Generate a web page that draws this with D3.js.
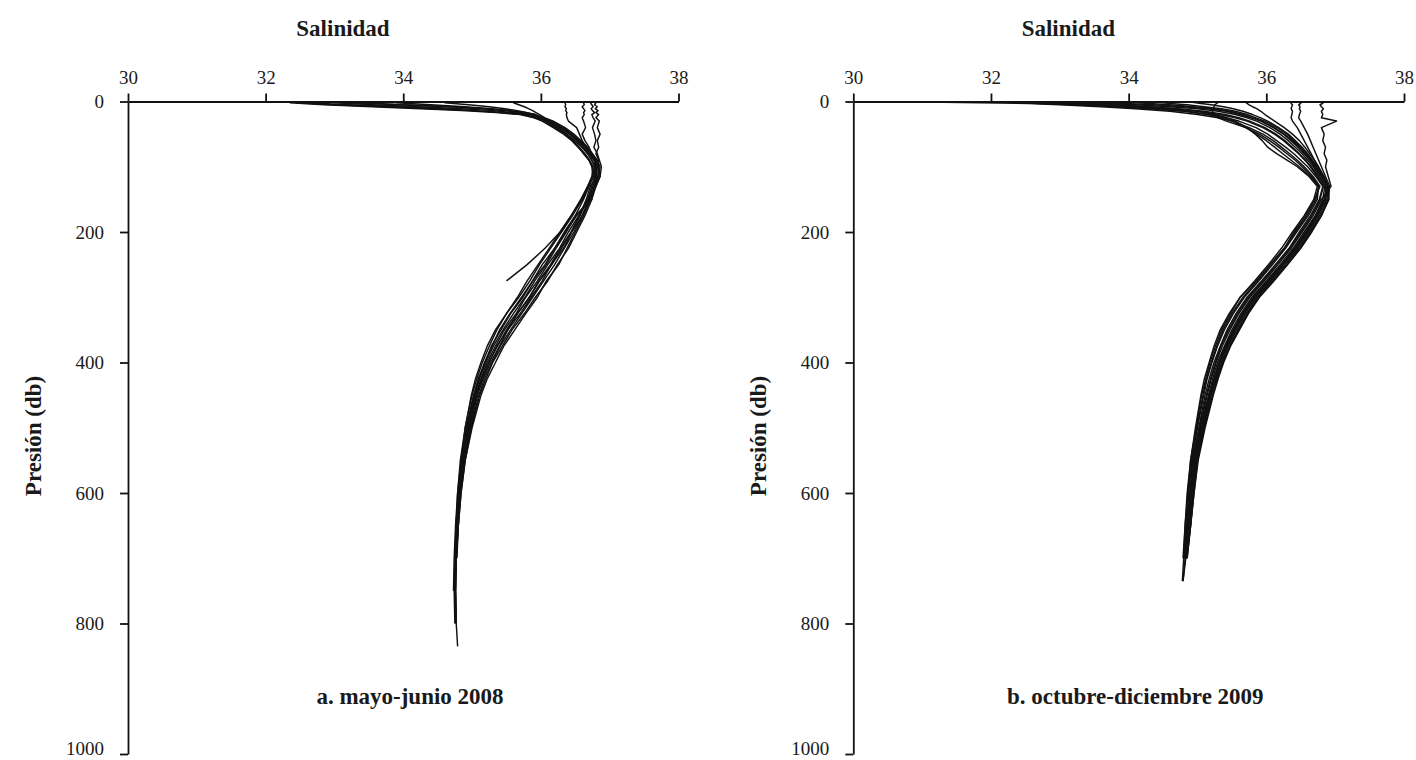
<!DOCTYPE html>
<html>
<head>
<meta charset="utf-8">
<script src="https://cdn.jsdelivr.net/npm/d3@7"></script>
<style>
  body { margin: 0; background: #fff; }
  text { font-family: "Liberation Serif", "DejaVu Serif", serif; fill: #1a1a1a; }
</style>
</head>
<body>
<svg></svg>
<script>
let salTicks = [30, 32, 34, 36, 38]
let presTicks = [0, 200, 400, 600, 800, 1000]

// pressure levels (db) of each panel; every profile holds the salinity read at those levels
let niveles08 = [2, 5, 8, 11, 14, 17, 20, 25, 30, 40,
    50, 60, 70, 80, 90, 100, 115, 130, 150, 175,
    200, 225, 250, 275, 300, 325, 350, 375, 400, 425,
    450, 500, 550, 600, 650, 700, 750, 800, 835]

let s08a = [32.35, 32.85, 33.55, 34.25, 34.85, 35.35, 35.72, 35.92, 36.04, 36.2,
    36.36, 36.47, 36.55, 36.62, 36.7, 36.75, 36.78, 36.74, 36.68, 36.57,
    36.44, 36.3, 36.16, 35.98, 35.84, 35.66, 35.52, 35.36, 35.25, 35.14,
    35.07, 34.95, 34.87, 34.82, 34.79, 34.77, 34.76, 34.77, 34.79]
let s08b = [32.6, 33.2, 33.9, 34.55, 35.05, 35.45, 35.76, 35.95, 36.08, 36.24,
    36.38, 36.49, 36.6, 36.68, 36.74, 36.79, 36.8, 36.78, 36.74, 36.64,
    36.52, 36.4, 36.24, 36.1, 35.92, 35.76, 35.58, 35.44, 35.3, 35.2,
    35.11, 34.99, 34.9, 34.84, 34.8, 34.77, 34.76, 34.77]
let s08c = [33.0, 33.55, 34.2, 34.85, 35.3, 35.6, 35.84, 35.98, 36.1, 36.27,
    36.42, 36.53, 36.62, 36.7, 36.77, 36.8, 36.76, 36.68, 36.6, 36.46,
    36.3, 36.14, 35.98, 35.84, 35.68, 35.5, 35.36, 35.25, 35.15, 35.07,
    35.0, 34.9, 34.84, 34.79, 34.76, 34.74, 34.73]
let s08d = [33.3, 33.95, 34.65, 35.15, 35.48, 35.7, 35.88, 36.02, 36.14, 36.3,
    36.44, 36.55, 36.64, 36.72, 36.78, 36.82, 36.8, 36.76, 36.7, 36.6,
    36.45, 36.33, 36.15, 36.02, 35.86, 35.7, 35.52, 35.4, 35.27, 35.16,
    35.08, 34.97, 34.88, 34.82, 34.79, 34.77]
let s08e = [34.6, 34.95, 35.25, 35.48, 35.66, 35.8, 35.92, 36.04, 36.16, 36.33,
    36.45, 36.56, 36.66, 36.74, 36.8, 36.84, 36.86, 36.8, 36.7, 36.52,
    36.36, 36.2, 36.06, 35.88, 35.74, 35.56, 35.42, 35.28, 35.19, 35.09,
    35.03, 34.92, 34.85, 34.8, 34.77, 34.75, 34.74, 34.75]
let s08f = [35.6, 35.68, 35.76, 35.82, 35.88, 35.93, 35.98, 36.06, 36.18, 36.35,
    36.48, 36.58, 36.68, 36.75, 36.82, 36.86, 36.84, 36.79, 36.72, 36.62,
    36.5, 36.38, 36.26, 36.08, 35.95, 35.78, 35.62, 35.46, 35.34, 35.22,
    35.13, 35.0, 34.9, 34.84, 34.8, 34.78]
let s08g = [33.9, 34.4, 34.9, 35.28, 35.56, 35.76, 35.9, 36.0, 36.08, 36.22,
    36.36, 36.46, 36.56, 36.64, 36.71, 36.76, 36.74, 36.68, 36.58, 36.44,
    36.28, 36.12, 35.96, 35.8, 35.66, 35.5, 35.34, 35.22, 35.13, 35.05,
    34.99, 34.9, 34.83, 34.79, 34.77]
let s08h = [33.3, 34.0, 34.7, 35.2, 35.55, 35.78, 35.92, 36.03, 36.12, 36.28,
    36.42, 36.52, 36.6, 36.68, 36.74, 36.78, 36.76, 36.7, 36.6, 36.44,
    36.28, 36.06, 35.8, 35.5]
let s08i = [36.35, 36.36, 36.35, 36.37, 36.36, 36.38, 36.37, 36.38, 36.4, 36.52,
    36.56, 36.6, 36.66, 36.72, 36.78, 36.8, 36.82, 36.76, 36.68, 36.55,
    36.4, 36.27, 36.1, 35.95, 35.78, 35.64, 35.47, 35.34, 35.22, 35.13,
    35.05, 34.94, 34.86, 34.81, 34.78, 34.76, 34.75]
let s08j = [36.62, 36.63, 36.6, 36.62, 36.64, 36.62, 36.63, 36.6, 36.62, 36.65,
    36.6, 36.64, 36.7, 36.74, 36.8, 36.84, 36.83, 36.78, 36.72, 36.6,
    36.48, 36.34, 36.2, 36.04, 35.88, 35.72, 35.56, 35.41, 35.29, 35.18,
    35.1, 34.98, 34.89, 34.83, 34.8, 34.77, 34.76, 34.77]
let s08k = [36.72, 36.74, 36.76, 36.73, 36.75, 36.78, 36.74, 36.76, 36.79, 36.75,
    36.78, 36.8, 36.77, 36.82, 36.85, 36.88, 36.86, 36.8, 36.74, 36.5,
    36.34, 36.2, 36.02, 35.88, 35.72, 35.55, 35.4, 35.29, 35.18, 35.1,
    35.02, 34.92, 34.85, 34.8, 34.77, 34.75]
let s08l = [36.8, 36.78, 36.82, 36.79, 36.83, 36.8, 36.84, 36.8, 36.85, 36.82,
    36.86, 36.82, 36.84, 36.8, 36.84, 36.82, 36.8, 36.72, 36.66, 36.56,
    36.44, 36.28, 36.14, 35.97, 35.83, 35.66, 35.5, 35.37, 35.24, 35.15,
    35.06, 34.96, 34.87, 34.82, 34.79, 34.76, 34.75]
let s08m = [32.45, 33.0, 33.75, 34.45, 35.0, 35.42, 35.7, 35.9, 36.02, 36.18,
    36.33, 36.45, 36.54, 36.63, 36.7, 36.74, 36.76, 36.7, 36.62, 36.5,
    36.37, 36.22, 36.08, 35.91, 35.77, 35.6, 35.45, 35.31, 35.2, 35.11,
    35.04, 34.93, 34.85, 34.8, 34.78, 34.76, 34.75, 34.76]

let perfiles08 = [s08a, s08b, s08c, s08d, s08e, s08f, s08g, s08h, s08i, s08j, s08k, s08l, s08m]

let niveles09 = [1, 3, 5, 8, 11, 15, 20, 25, 30, 40,
    50, 60, 70, 80, 90, 100, 115, 130, 150, 175,
    200, 225, 250, 275, 300, 325, 350, 375, 400, 425,
    450, 500, 550, 600, 650, 700, 735]

let s09a = [31.3, 32.55, 33.0, 33.6, 34.1, 34.6, 35.0, 35.3, 35.5, 35.75,
    35.95, 36.1, 36.22, 36.34, 36.45, 36.55, 36.68, 36.78, 36.7, 36.57,
    36.4, 36.26, 36.05, 35.85, 35.62, 35.48, 35.35, 35.26, 35.18, 35.12,
    35.06, 34.98, 34.9, 34.86, 34.82, 34.8, 34.78]
let s09b = [32.2, 32.7, 33.2, 33.8, 34.3, 34.8, 35.15, 35.42, 35.6, 35.85,
    36.02, 36.15, 36.28, 36.4, 36.5, 36.6, 36.72, 36.82, 36.77, 36.64,
    36.48, 36.33, 36.13, 35.93, 35.72, 35.56, 35.43, 35.33, 35.24, 35.17,
    35.11, 35.02, 34.93, 34.89, 34.85, 34.81]
let s09c = [32.6, 33.05, 33.5, 34.05, 34.55, 35.0, 35.32, 35.55, 35.72, 35.95,
    36.12, 36.25, 36.36, 36.47, 36.56, 36.65, 36.76, 36.85, 36.82, 36.71,
    36.55, 36.39, 36.2, 36.0, 35.79, 35.63, 35.5, 35.39, 35.29, 35.22,
    35.16, 35.05, 34.96, 34.91, 34.87, 34.83, 34.79]
let s09d = [33.0, 33.4, 33.8, 34.3, 34.7, 35.0, 35.25, 35.42, 35.55, 35.72,
    35.84, 35.94, 36.02, 36.15, 36.3, 36.45, 36.62, 36.74, 36.69, 36.55,
    36.38, 36.22, 36.03, 35.83, 35.62, 35.46, 35.33, 35.24, 35.17, 35.1,
    35.05, 34.97, 34.9, 34.85, 34.82, 34.79]
let s09e = [33.3, 33.7, 34.1, 34.6, 35.0, 35.3, 35.55, 35.72, 35.86, 36.05,
    36.2, 36.32, 36.42, 36.52, 36.6, 36.68, 36.78, 36.86, 36.86, 36.75,
    36.6, 36.44, 36.25, 36.05, 35.84, 35.68, 35.55, 35.43, 35.33, 35.26,
    35.19, 35.08, 34.98, 34.93, 34.88, 34.84]
let s09f = [33.6, 33.95, 34.35, 34.8, 35.15, 35.42, 35.62, 35.78, 35.92, 36.1,
    36.25, 36.36, 36.46, 36.55, 36.63, 36.7, 36.8, 36.88, 36.9, 36.79,
    36.64, 36.48, 36.29, 36.09, 35.88, 35.72, 35.59, 35.46, 35.36, 35.28,
    35.22, 35.1, 35.0, 34.94, 34.9, 34.84]
let s09g = [34.0, 34.3, 34.6, 34.95, 35.25, 35.48, 35.66, 35.8, 35.94, 36.12,
    36.26, 36.38, 36.48, 36.56, 36.64, 36.72, 36.82, 36.9, 36.91, 36.8,
    36.66, 36.5, 36.31, 36.11, 35.9, 35.74, 35.61, 35.48, 35.38, 35.3,
    35.23, 35.11, 35.01, 34.95, 34.9, 34.85]
let s09h = [34.9, 35.05, 35.2, 35.38, 35.52, 35.66, 35.8, 35.92, 36.02, 36.18,
    36.32, 36.42, 36.52, 36.6, 36.67, 36.74, 36.82, 36.88, 36.84, 36.72,
    36.57, 36.41, 36.22, 36.02, 35.81, 35.65, 35.52, 35.4, 35.31, 35.24,
    35.17, 35.06, 34.97, 34.92, 34.88]
let s09i = [35.3, 35.28, 35.25, 35.24, 35.22, 35.22, 35.22, 35.3, 35.42, 35.7,
    35.9, 36.05, 36.18, 36.3, 36.42, 36.52, 36.66, 36.76, 36.74, 36.61,
    36.44, 36.28, 36.09, 35.89, 35.68, 35.52, 35.39, 35.29, 35.21, 35.14,
    35.09, 35.0, 34.92, 34.87, 34.84, 34.8]
let s09j = [35.7, 35.72, 35.75, 35.8, 35.86, 35.92, 35.98, 36.05, 36.12, 36.26,
    36.38, 36.48, 36.56, 36.63, 36.7, 36.76, 36.84, 36.9, 36.88, 36.77,
    36.62, 36.46, 36.27, 36.07, 35.86, 35.7, 35.57, 35.44, 35.35, 35.27,
    35.2, 35.09, 34.99, 34.93, 34.89, 34.84]
let s09k = [36.37, 36.36, 36.38, 36.37, 36.36, 36.38, 36.37, 36.36, 36.38, 36.45,
    36.5, 36.55, 36.6, 36.65, 36.7, 36.75, 36.83, 36.9, 36.85, 36.73,
    36.58, 36.42, 36.23, 36.03, 35.82, 35.66, 35.53, 35.41, 35.32, 35.24,
    35.18, 35.07, 34.97, 34.92, 34.88, 34.83]
let s09l = [36.48, 36.5, 36.47, 36.49, 36.48, 36.5, 36.48, 36.47, 36.5, 36.55,
    36.6, 36.64, 36.68, 36.72, 36.76, 36.8, 36.86, 36.92, 36.9, 36.8,
    36.65, 36.49, 36.3, 36.1, 35.89, 35.73, 35.6, 35.47, 35.37, 35.29,
    35.22, 35.1, 35.0, 34.95, 34.9, 34.85]
let s09m = [36.8, 36.82, 36.78, 36.8, 36.83, 36.8, 36.82, 36.8, 37.02, 36.8,
    36.84, 36.82, 36.86, 36.84, 36.88, 36.86, 36.9, 36.94, 36.8, 36.68,
    36.52, 36.36, 36.17, 35.97, 35.76, 35.6, 35.47, 35.36, 35.27, 35.2,
    35.14, 35.04, 34.95, 34.9, 34.86, 34.82]
let s09n = [32.9, 33.3, 33.75, 34.25, 34.7, 35.1, 35.4, 35.6, 35.76, 35.98,
    36.14, 36.27, 36.38, 36.48, 36.57, 36.64, 36.74, 36.83, 36.78, 36.66,
    36.5, 36.34, 36.15, 35.95, 35.74, 35.58, 35.45, 35.34, 35.26, 35.19,
    35.13, 35.03, 34.94, 34.89, 34.85, 34.82, 34.79]
let s09o = [32.4, 32.9, 33.4, 33.95, 34.4, 34.85, 35.15, 35.35, 35.5, 35.7,
    35.86, 36.0, 36.12, 36.24, 36.36, 36.48, 36.64, 36.76, 36.72, 36.59,
    36.42, 36.26, 36.07, 35.87, 35.66, 35.5, 35.37, 35.28, 35.2, 35.13,
    35.08, 34.99, 34.91, 34.87, 34.83, 34.8]
let s09p = [34.4, 34.6, 34.85, 35.1, 35.35, 35.55, 35.72, 35.85, 35.98, 36.16,
    36.3, 36.4, 36.5, 36.58, 36.66, 36.73, 36.82, 36.89, 36.86, 36.74,
    36.59, 36.43, 36.24, 36.04, 35.83, 35.67, 35.54, 35.42, 35.32, 35.25,
    35.19, 35.08, 34.98, 34.92, 34.88, 34.83]

let perfiles09 = [s09a, s09b, s09c, s09d, s09e, s09f, s09g, s09h, s09i, s09j, s09k, s09l, s09m, s09n, s09o, s09p]

let width = 1416
let height = 760

let svg = d3.select('svg')
    .attr('width', width)
    .attr('height', height)

let yScale = d3.scaleLinear()
    .domain([0, 1000])
    .range([101.5, 754])

let drawPanel = (left, right, niveles, perfiles, subtitulo) => {
    let xScale = d3.scaleLinear()
        .domain([30, 38])
        .range([left, right])

    let g = svg.append('g')

    let line = d3.line()
        .x((d) => xScale(d[0]))
        .y((d) => yScale(d[1]))

    g.selectAll('path.perfil')
        .data(perfiles)
        .enter()
        .append('path')
        .attr('class', 'perfil')
        .attr('d', (sal) => line(sal.map((s, i) => [s, niveles[i]])))
        .attr('fill', 'none')
        .attr('stroke', '#111')
        .attr('stroke-width', 1.45)
        .attr('stroke-linejoin', 'round')

    let xAxis = d3.axisTop(xScale)
        .tickValues(salTicks)
        .tickSize(8)
        .tickSizeOuter(0)
        .tickPadding(10)

    let yAxis = d3.axisLeft(yScale)
        .tickValues(presTicks)
        .tickFormat(d3.format('d'))
        .tickSize(8)
        .tickSizeOuter(0)
        .tickPadding(16)

    let gx = g.append('g')
        .attr('transform', 'translate(0, ' + yScale(0) + ')')
        .call(xAxis)

    let gy = g.append('g')
        .attr('transform', 'translate(' + left + ', 0)')
        .call(yAxis)

    for (let ax of [gx, gy]) {
        ax.attr('font-family', null)
        ax.selectAll('path, line').attr('stroke', '#111').attr('stroke-width', 1.8)
        ax.selectAll('text').style('font-size', '19px')
    }
    // keep the lowest label inside the picture
    gy.selectAll('text')
        .filter((d) => d === 1000)
        .attr('dy', '0.05em')

    g.append('text')
        .attr('x', left + 215)
        .attr('y', 36)
        .attr('text-anchor', 'middle')
        .style('font-size', '23px')
        .style('font-weight', 'bold')
        .text('Salinidad')

    g.append('text')
        .attr('transform', 'translate(' + (left - 87) + ', 436) rotate(-90)')
        .attr('text-anchor', 'middle')
        .style('font-size', '23px')
        .style('font-weight', 'bold')
        .text('Presión (db)')

    g.append('text')
        .attr('x', left + 282)
        .attr('y', 704)
        .attr('text-anchor', 'middle')
        .style('font-size', '23px')
        .style('font-weight', 'bold')
        .text(subtitulo)
}

drawPanel(128, 678.5, niveles08, perfiles08, 'a. mayo-junio 2008')
drawPanel(853.3, 1404, niveles09, perfiles09, 'b. octubre-diciembre 2009')
</script>
</body>
</html>
